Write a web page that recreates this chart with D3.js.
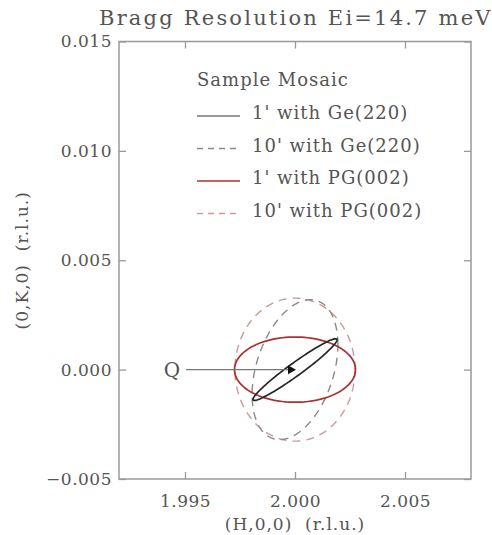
<!DOCTYPE html>
<html>
<head>
<meta charset="utf-8">
<script src="https://cdn.jsdelivr.net/npm/d3@7"></script>
<style>
  body { margin: 0; background: #fff; }
  text { font-family: "DejaVu Serif", serif; fill: #555; }
</style>
</head>
<body>
<div id="chart"></div>
<script>
// ellipse parameters: x = h + hHalf*cos(t), y = k + kHalf*cos(t - phase)
var names  = ["1' with Ge(220)", "10' with Ge(220)", "1' with PG(002)", "10' with PG(002)"];
var hHalf  = [0.00191, 0.00195, 0.00275, 0.00273];
var kHalf  = [0.00141, 0.00320, 0.00149, 0.00327];
var phase  = [15, 69, 90, 90];   // degrees
var colors = ["#262626", "#8a8a8a", "#ad3030", "#cc9a9a"];
var dashes = [null, "8,6", null, "8,6"];

var xTicks = [1.995, 2.000, 2.005];
var yTicks = [-0.005, 0.000, 0.005, 0.010, 0.015];

var width = 492, height = 535;
var mLeft = 119, mRight = 471, mTop = 41.5, mBottom = 479;

var svg = d3.select("#chart")
    .append("svg")
    .attr("width", width)
    .attr("height", height);

var x = d3.scaleLinear().domain([1.992, 2.008]).range([mLeft, mRight]);
var y = d3.scaleLinear().domain([-0.005, 0.015]).range([mBottom, mTop]);

// title
svg.append("text")
    .attr("x", 99).attr("y", 25)
    .style("font-size", "21px")
    .style("letter-spacing", "2.2px")
    .text("Bragg Resolution Ei=14.7 meV");

// axes: ticks inward on all four sides
var axStyle = function(g) {
    g.select(".domain").remove();
    g.selectAll(".tick line").attr("stroke", "#999").attr("stroke-width", 1.3);
    g.selectAll(".tick text").style("font-size", "17px").attr("fill", "#555")
        .style("font-family", "DejaVu Serif").style("letter-spacing", "0.5px");
};

svg.append("g")
    .attr("transform", "translate(0," + mBottom + ")")
    .call(d3.axisBottom(x).tickValues(xTicks).tickFormat(d3.format(".3f"))
        .tickSizeInner(-7).tickSizeOuter(0).tickPadding(16))
    .call(axStyle);

svg.append("g")
    .attr("transform", "translate(0," + mTop + ")")
    .call(d3.axisTop(x).tickValues(xTicks).tickFormat("").tickSizeInner(-7).tickSizeOuter(0))
    .call(axStyle);

svg.append("g")
    .attr("transform", "translate(" + mLeft + ",0)")
    .call(d3.axisLeft(y).tickValues(yTicks).tickFormat(d3.format(".3f"))
        .tickSizeInner(-7).tickSizeOuter(0).tickPadding(7))
    .call(axStyle);

svg.append("g")
    .attr("transform", "translate(" + mRight + ",0)")
    .call(d3.axisRight(y).tickValues(yTicks).tickFormat("").tickSizeInner(-7).tickSizeOuter(0))
    .call(axStyle);

// minus sign like the original
svg.selectAll(".tick text").each(function() {
    var t = d3.select(this);
    t.text(t.text().replace("-", "\u2212"));
});

// frame
svg.append("rect")
    .attr("x", mLeft).attr("y", mTop)
    .attr("width", mRight - mLeft).attr("height", mBottom - mTop)
    .attr("fill", "none").attr("stroke", "#999").attr("stroke-width", 1.5);

// axis titles
svg.append("text")
    .attr("x", (mLeft + mRight) / 2).attr("y", 530)
    .attr("text-anchor", "middle")
    .style("font-size", "17px")
    .style("letter-spacing", "1px")
    .text("(H,0,0)\u00a0\u00a0(r.l.u.)");

svg.append("text")
    .attr("transform", "translate(28," + ((mTop + mBottom) / 2) + ") rotate(-90)")
    .attr("text-anchor", "middle")
    .style("font-size", "17px")
    .style("letter-spacing", "1px")
    .text("(0,K,0)\u00a0\u00a0(r.l.u.)");

// ellipses
var ts = d3.range(0, 361, 3).map(function(d) { return d * Math.PI / 180; });
var line = d3.line().x(function(p) { return x(p[0]); }).y(function(p) { return y(p[1]); });

var order = [3, 1, 2, 0];
order.forEach(function(i) {
    var ph = phase[i] * Math.PI / 180;
    var pts = ts.map(function(t) {
        return [2.000 + hHalf[i] * Math.cos(t), 0.000 + kHalf[i] * Math.cos(t - ph)];
    });
    svg.append("path")
        .attr("d", line(pts) + "Z")
        .attr("fill", "none")
        .attr("stroke", colors[i])
        .attr("stroke-width", i === 0 || i === 2 ? 1.7 : 1.4)
        .attr("stroke-dasharray", dashes[i]);
});

// Q arrow
svg.append("line")
    .attr("x1", x(1.99505)).attr("x2", x(1.99980))
    .attr("y1", y(0)).attr("y2", y(0))
    .attr("stroke", "#777").attr("stroke-width", 1.2);
svg.append("path")
    .attr("d", "M" + (x(2.000) + 1) + "," + y(0) + " l-8,-4.5 l0,9 Z")
    .attr("fill", "#111");
svg.append("text")
    .attr("x", x(1.99505) - 6).attr("y", y(0) + 7)
    .attr("text-anchor", "end")
    .style("font-size", "20px")
    .text("Q");

// legend
var lg = svg.append("g").attr("transform", "translate(197,86)");
lg.append("text").attr("x", 0).attr("y", 0)
    .style("font-size", "18px").style("letter-spacing", "1px").text("Sample Mosaic");
names.forEach(function(n, i) {
    var yy = 33 + i * 32.5;
    lg.append("line")
        .attr("x1", 0).attr("x2", 43)
        .attr("y1", yy - 3).attr("y2", yy - 3)
        .attr("stroke", i === 0 ? "#777" : colors[i]).attr("stroke-width", 1.3)
        .attr("stroke-dasharray", dashes[i] ? "6,5" : null);
    lg.append("text").attr("x", 55).attr("y", yy)
        .style("font-size", "18px").style("letter-spacing", "1px").text(n);
});
</script>
</body>
</html>
